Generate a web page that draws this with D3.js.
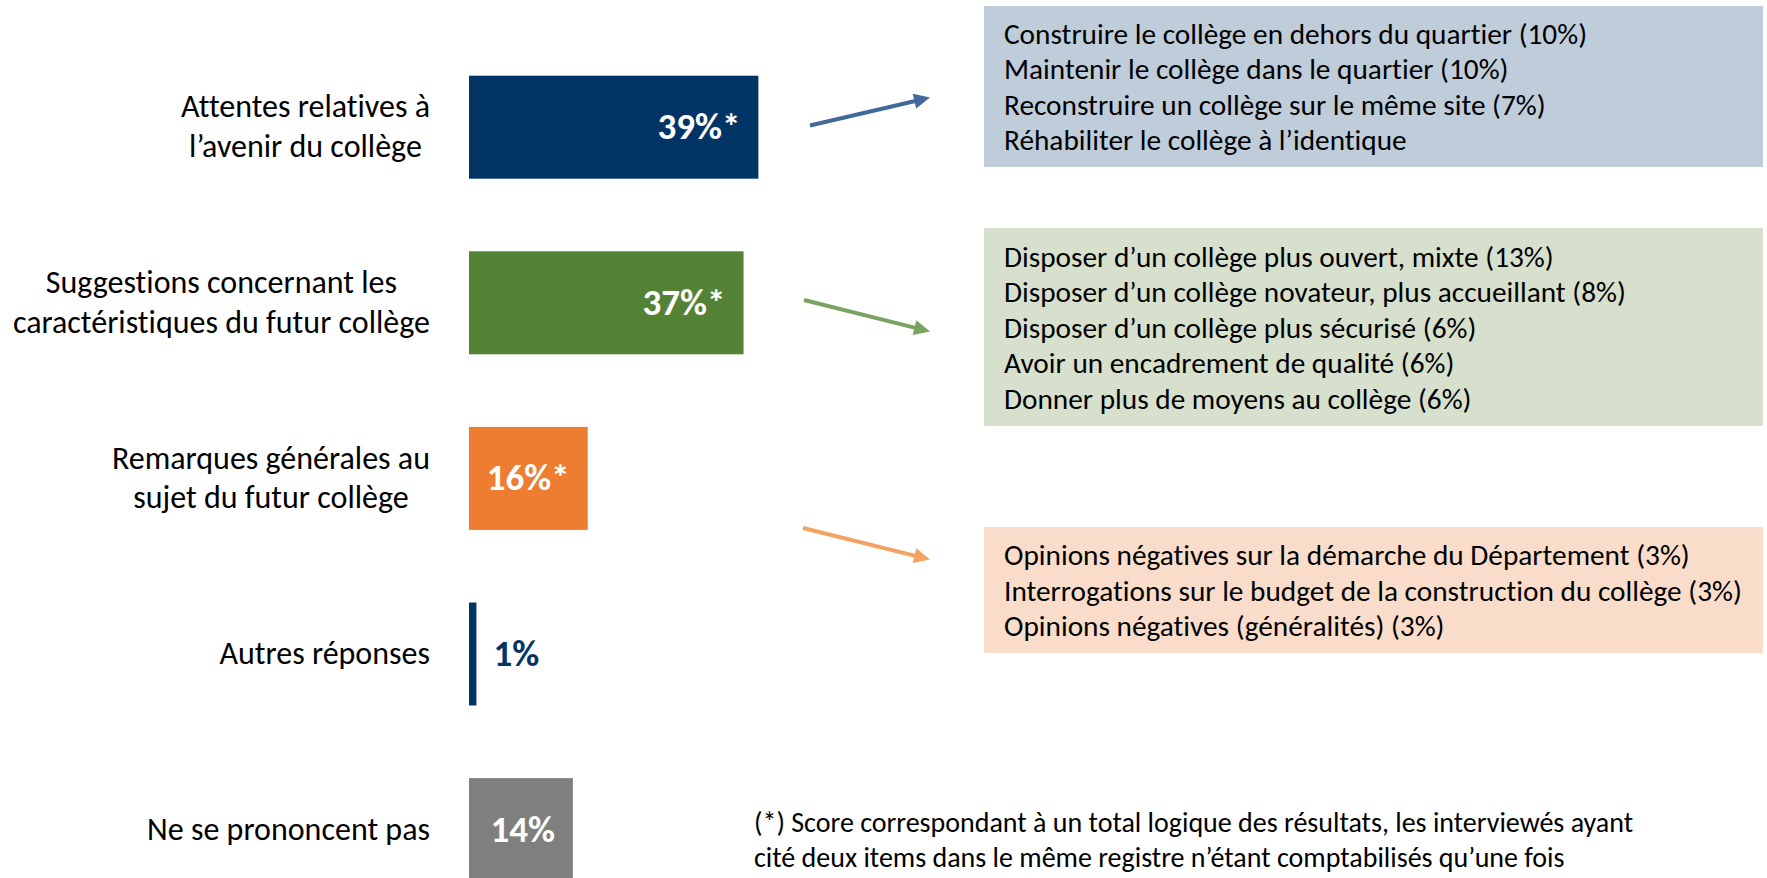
<!DOCTYPE html>
<html>
<head>
<meta charset="utf-8">
<script src="https://cdn.jsdelivr.net/npm/d3@7"></script>
<style>
  html, body { margin: 0; padding: 0; background: #fff; }
  svg { display: block; font-family: Carlito, Calibri, "Liberation Sans", Arial, sans-serif; font-variant-ligatures: none; }
</style>
</head>
<body>
<svg id="chart" width="1767" height="878"></svg>
<script>
// chart values
const categories = [
    ['Attentes relatives à', 'l’avenir du collège'],
    ['Suggestions concernant les', 'caractéristiques du futur collège'],
    ['Remarques générales au', 'sujet du futur collège'],
    ['Autres réponses'],
    ['Ne se prononcent pas']
]
const values = [39, 37, 16, 1, 14]
const valueLabels = ['39%*', '37%*', '16%*', '1%', '14%']

const attentesDetails = [
    'Construire le collège en dehors du quartier (10%)',
    'Maintenir le collège dans le quartier (10%)',
    'Reconstruire un collège sur le même site (7%)',
    'Réhabiliter le collège à l’identique'
]
const suggestionsDetails = [
    'Disposer d’un collège plus ouvert, mixte (13%)',
    'Disposer d’un collège novateur, plus accueillant (8%)',
    'Disposer d’un collège plus sécurisé (6%)',
    'Avoir un encadrement de qualité (6%)',
    'Donner plus de moyens au collège (6%)'
]
const remarquesDetails = [
    'Opinions négatives sur la démarche du Département (3%)',
    'Interrogations sur le budget de la construction du collège (3%)',
    'Opinions négatives (généralités) (3%)'
]
const footnoteLines = [
    '(*) Score correspondant à un total logique des résultats, les interviewés ayant',
    'cité deux items dans le même registre n’étant comptabilisés qu’une fois'
]

const BAR_COLORS = ['#033466', '#548235', '#ED7D31', '#033466', '#7F7F7F']

const svg = d3.select('#chart')

// scales
const x = d3.scaleLinear()
    .domain([0, 100])
    .range([469, 469 + 742])

const y = d3.scaleBand()
    .domain(d3.range(categories.length))
    .range([75.7, 881.1])
    .paddingInner(0.4135)
    .paddingOuter(0)

// bars
svg.append('g').selectAll('rect')
    .data(values)
    .join('rect')
    .attr('x', x(0))
    .attr('y', (d, i) => y(i))
    .attr('width', d => x(d) - x(0))
    .attr('height', y.bandwidth())
    .attr('fill', (d, i) => BAR_COLORS[i])

// value labels: inside the bar, right aligned, unless the bar is too thin
svg.append('g').selectAll('text')
    .data(values)
    .join('text')
    .attr('x', d => d > 5 ? x(d) - 18 : x(d) + 17)
    .attr('y', (d, i) => y(i) + y.bandwidth() / 2 + 12)
    .attr('text-anchor', d => d > 5 ? 'end' : 'start')
    .attr('fill', (d, i) => d > 5 ? '#fff' : BAR_COLORS[i])
    .style('font-size', '37px')
    .style('font-weight', 'bold')
    .text((d, i) => valueLabels[i])

// category labels: block right aligned, lines centered inside the block
const LABEL_RIGHT = 430
const LABEL_LINE = 39.5
categories.forEach((lines, i) => {
    const cy = y(i) + y.bandwidth() / 2
    const g = svg.append('g')
    const texts = g.selectAll('text')
        .data(lines)
        .join('text')
        .attr('y', (d, j) => cy + (j - (lines.length - 1) / 2) * LABEL_LINE + 10)
        .attr('text-anchor', 'middle')
        .attr('fill', '#000')
        .style('font-size', '32px')
        .text(d => d)
    const maxW = d3.max(texts.nodes(), n => n.getComputedTextLength())
    texts.attr('x', LABEL_RIGHT - maxW / 2)
})

// detail boxes
const boxes = [
    { lines: attentesDetails, top: 6, bottom: 167, fill: '#BFCCDA' },
    { lines: suggestionsDetails, top: 228, bottom: 426, fill: '#D6E0CD' },
    { lines: remarquesDetails, top: 527, bottom: 653, fill: '#F9DDCA' }
]
const BOX_LEFT = 984
const BOX_RIGHT = 1763
const BOX_LINE = 35.5
boxes.forEach(b => {
    const g = svg.append('g')
    g.append('rect')
        .attr('x', BOX_LEFT)
        .attr('y', b.top)
        .attr('width', BOX_RIGHT - BOX_LEFT)
        .attr('height', b.bottom - b.top)
        .attr('fill', b.fill)
    const cy = (b.top + b.bottom) / 2
    g.selectAll('text')
        .data(b.lines)
        .join('text')
        .attr('x', BOX_LEFT + 20)
        .attr('y', (d, j) => cy + (j - (b.lines.length - 1) / 2) * BOX_LINE + 10.5)
        .attr('fill', '#000')
        .style('font-size', '29.3px')
        .text(d => d)
})

// arrows from the bars to the boxes
const arrows = [
    { from: [810, 125.5], to: [930, 97.5], color: '#43699A' },
    { from: [804, 300], to: [930, 331.5], color: '#79A35E' },
    { from: [803, 528], to: [930, 559.5], color: '#F4A260' }
]
arrows.forEach(a => {
    const [x1, y1] = a.from
    const [x2, y2] = a.to
    const len = Math.hypot(x2 - x1, y2 - y1)
    const ux = (x2 - x1) / len, uy = (y2 - y1) / len
    const headLen = 16, headHalf = 7.5
    const bx = x2 - ux * headLen, by = y2 - uy * headLen
    svg.append('line')
        .attr('x1', x1).attr('y1', y1)
        .attr('x2', bx + ux * 2).attr('y2', by + uy * 2)
        .attr('stroke', a.color)
        .attr('stroke-width', 4)
    svg.append('path')
        .attr('d', `M${x2},${y2}L${bx - uy * headHalf},${by + ux * headHalf}L${bx + uy * headHalf},${by - ux * headHalf}Z`)
        .attr('fill', a.color)
})

// footnote
svg.append('g').selectAll('text')
    .data(footnoteLines)
    .join('text')
    .attr('x', 754)
    .attr('y', (d, j) => 832 + j * 34.5)
    .attr('fill', '#000')
    .style('font-size', '28px')
    .text(d => d)
</script>
</body>
</html>
